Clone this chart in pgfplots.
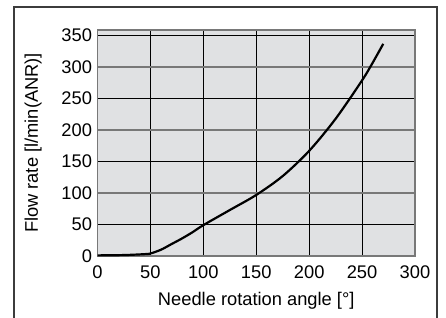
\documentclass[border=0pt]{standalone}
\usepackage{pgfplots}
\pgfplotsset{compat=1.18}
\usepackage{fontspec}
\setmainfont{Liberation Sans}
\definecolor{bg}{RGB}{224,225,227}
\definecolor{gl}{RGB}{120,120,120}
\definecolor{fr}{RGB}{60,60,60}
\newcommand{\ff}{\fontsize{18.3}{21}\selectfont}
\begin{document}
\begin{tikzpicture}[x=1pt,y=1pt]
\path[use as bounding box] (0,0) rectangle (446,317);
\draw[line width=1.3pt, color=fr] (14,-5) -- (14,310) -- (437,310) -- (437,-5);
\begin{axis}[
  at={(97.5pt,61pt)}, anchor=south west,
  scale only axis, width=317.5pt, height=226pt,
  xmin=0, xmax=300, ymin=0, ymax=359,
  xtick={0,50,...,300}, ytick={0,50,...,350},
  major tick length=0pt,
  grid=major, major grid style={black, line width=0.9pt},
  extra y ticks={100,200,300}, extra y tick labels={},
  extra y tick style={major grid style={gl, line width=1.6pt}},
  axis line style={gl, line width=1.3pt},
  axis background/.style={fill=bg},
  /pgf/number format/assume math mode=true,
  tick label style={font=\ff},
  label style={font=\ff},
  yticklabel style={xshift=-2pt},
  xticklabel style={yshift=-6pt},
  xlabel={Needle rotation angle [°]},
  ylabel={Flow rate [l/min(ANR)]},
  xlabel style={at={(axis description cs:0.5,-0.197)}, anchor=center},
  ylabel style={at={(axis description cs:-0.203,0.5)}, anchor=center},
]
\addplot[black, line width=2.2pt, smooth, tension=0.5] coordinates {
(0,1) (25,1.5) (45,3) (50,4) (60,10) (70,19) (80,28) (90,38) (100,49)
(125,73) (150,97) (175,127) (200,167) (225,218) (250,279) (260,307) (270,337)
};
\end{axis}
\end{tikzpicture}
\end{document}
